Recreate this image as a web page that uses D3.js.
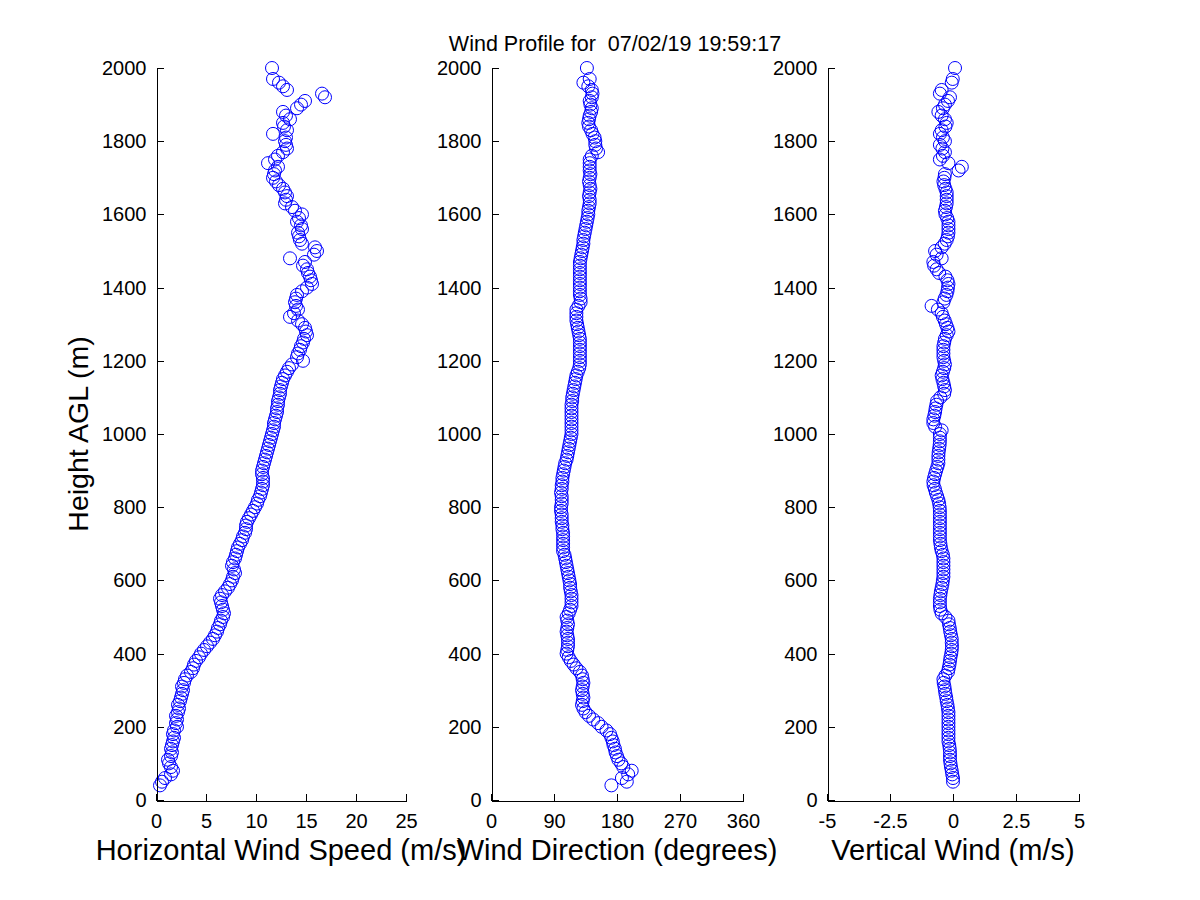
<!DOCTYPE html>
<html>
<head>
<meta charset="utf-8">
<script src="https://cdn.jsdelivr.net/npm/d3@7"></script>
<style>
  html, body { margin: 0; padding: 0; background: #fff; }
  svg { display: block; font-family: "Liberation Sans", Arial, sans-serif; }
</style>
</head>
<body>
<svg id="chart" width="1200" height="900"></svg>
<script>
// ---- Data ----
const titleText = "Wind Profile for  07/02/19 19:59:17";
const yLabel = "Height AGL (m)";
const yTicks = [0, 200, 400, 600, 800, 1000, 1200, 1400, 1600, 1800, 2000];

const heights = [
  40, 50, 60, 70, 80, 90, 100, 110, 120, 130,
  140, 150, 160, 170, 180, 190, 200, 210, 220, 230,
  240, 250, 260, 270, 280, 290, 300, 310, 320, 330,
  340, 350, 360, 370, 380, 390, 400, 410, 420, 430,
  440, 450, 460, 470, 480, 490, 500, 510, 520, 530,
  540, 550, 560, 570, 580, 590, 600, 610, 620, 630,
  640, 650, 660, 670, 680, 690, 700, 710, 720, 730,
  740, 750, 760, 770, 780, 790, 800, 810, 820, 830,
  840, 850, 860, 870, 880, 890, 900, 910, 920, 930,
  940, 950, 960, 970, 980, 990, 1000, 1010, 1020, 1030,
  1040, 1050, 1060, 1070, 1080, 1090, 1100, 1110, 1120, 1130,
  1140, 1150, 1160, 1170, 1180, 1190, 1200, 1210, 1220, 1230,
  1240, 1250, 1260, 1270, 1280, 1290, 1300, 1310, 1320, 1330,
  1340, 1350, 1360, 1370, 1380, 1390, 1400, 1410, 1420, 1430,
  1440, 1450, 1460, 1470, 1480, 1490, 1500, 1510, 1520, 1530,
  1540, 1550, 1560, 1570, 1580, 1590, 1600, 1610, 1620, 1630,
  1640, 1650, 1660, 1670, 1680, 1690, 1700, 1710, 1720, 1730,
  1740, 1750, 1760, 1770, 1780, 1790, 1800, 1810, 1820, 1830,
  1840, 1850, 1860, 1870, 1880, 1890, 1900, 1910, 1920, 1930,
  1940, 1950, 1960, 1970, 1980, 1990, 2000
];

const windSpeed = [
  0.4, 0.6, 0.9, 1.5, 1.7, 1.5, 1.3, 1.2, 1.5, 1.6,
  1.5, 1.6, 1.7, 1.8, 1.7, 1.8, 2.1, 2.0, 2.1, 2.0,
  2.2, 2.3, 2.2, 2.4, 2.5, 2.6, 2.7, 2.6, 2.8, 2.9,
  3.1, 3.5, 3.7, 3.8, 4.0, 4.3, 4.5, 4.8, 5.1, 5.4,
  5.7, 5.9, 6.1, 6.2, 6.4, 6.5, 6.7, 6.8, 6.7, 6.6,
  6.5, 6.4, 6.6, 6.9, 7.2, 7.4, 7.6, 7.7, 7.9, 7.8,
  7.6, 7.7, 7.9, 8.0, 8.1, 8.2, 8.4, 8.6, 8.7, 8.9,
  9.0, 9.0, 9.1, 9.3, 9.5, 9.7, 9.9, 10.1, 10.2, 10.4,
  10.5, 10.6, 10.7, 10.7, 10.7, 10.6, 10.6, 10.7, 10.8, 10.9,
  11.0, 11.1, 11.2, 11.3, 11.4, 11.5, 11.6, 11.7, 11.8, 11.8,
  11.9, 12.0, 12.1, 12.1, 12.2, 12.2, 12.3, 12.4, 12.4, 12.5,
  12.6, 12.7, 12.9, 13.1, 13.3, 13.6, 14.7, 14.1, 14.2, 14.4,
  14.5, 14.7, 14.8, 15.1, 15.0, 14.9, 14.6, 14.2, 13.4, 13.8,
  14.2, 14.0, 13.9, 14.0, 14.1, 14.6, 15.1, 15.6, 15.5, 15.4,
  15.2, 15.1, 14.7, 14.9, 13.4, 15.8, 16.1, 15.9, 14.6, 14.4,
  14.3, 14.2, 14.6, 14.5, 14.1, 14.3, 14.6, 13.9, 13.6, 12.9,
  13.0, 13.1, 12.9, 12.7, 12.3, 12.0, 11.7, 11.8, 11.9, 12.2,
  11.2, 11.9, 12.2, 12.7, 13.1, 13.0, 12.9, 13.0, 11.7, 13.1,
  12.8, 12.7, 13.4, 13.0, 12.7, 14.1, 14.5, 14.9, 16.9, 16.6,
  13.1, 12.7, 12.3, 11.7, null, null, 11.6
];

const windDirection = [
  172, 194, 187, 196, 201, 189, 186, 182, 180, 178,
  177, 175, 174, 172, 170, 165, 158, 153, 146, 140,
  135, 132, 130, 131, 132, 131, 130, 131, 132, 131,
  130, 127, 122, 118, 114, 111, 108, 109, 110, 110,
  110, 109, 108, 109, 110, 109, 108, 111, 113, 115,
  115, 115, 115, 114, 113, 113, 112, 111, 110, 109,
  108, 107, 106, 105, 103, 103, 103, 103, 103, 103,
  102, 102, 101, 101, 101, 100, 100, 101, 101, 101,
  100, 101, 101, 102, 102, 103, 104, 105, 106, 108,
  109, 110, 111, 112, 113, 114, 115, 115, 115, 115,
  115, 115, 115, 115, 115, 116, 116, 117, 118, 119,
  120, 121, 122, 124, 126, 127, 127, 127, 127, 127,
  127, 127, 127, 126, 125, 124, 123, 122, 122, 122,
  122, 125, 128, 128, 127, 127, 127, 127, 127, 127,
  127, 127, 127, 127, 128, 129, 130, 131, 132, 132,
  133, 134, 135, 136, 137, 138, 139, 139, 140, 141,
  141, 140, 141, 142, 141, 140, 141, 142, 141, 141,
  141, 141, 144, 153, 150, 149, 149, 148, 145, 143,
  140, 139, 140, 141, 143, 144, 142, 141, 144, 145,
  144, 139, 132, 141, null, null, 137
];

const verticalWind = [
  null, 0.0, 0.0, -0.03, -0.05, -0.08, -0.1, -0.12, -0.12, -0.12,
  -0.13, -0.15, -0.18, -0.18, -0.18, -0.18, -0.18, -0.18, -0.18, -0.18,
  -0.18, -0.2, -0.22, -0.25, -0.27, -0.3, -0.32, -0.34, -0.37, -0.38,
  -0.3, -0.2, -0.17, -0.14, -0.12, -0.1, -0.07, -0.05, -0.04, -0.05,
  -0.05, -0.08, -0.11, -0.13, -0.16, -0.18, -0.3, -0.45, -0.5, -0.52,
  -0.52, -0.52, -0.5, -0.48, -0.45, -0.42, -0.4, -0.38, -0.38, -0.38,
  -0.38, -0.38, -0.38, -0.4, -0.45, -0.48, -0.5, -0.52, -0.52, -0.52,
  -0.52, -0.52, -0.52, -0.52, -0.52, -0.52, -0.53, -0.55, -0.58, -0.63,
  -0.68, -0.72, -0.77, -0.78, -0.75, -0.71, -0.67, -0.62, -0.58, -0.58,
  -0.58, -0.57, -0.55, -0.53, -0.52, -0.52, -0.52, -0.45, -0.71, -0.78,
  -0.78, -0.74, -0.71, -0.69, -0.66, -0.63, -0.5, -0.35, -0.32, -0.35,
  -0.38, -0.42, -0.45, -0.4, -0.35, -0.32, -0.35, -0.38, -0.38, -0.38,
  -0.38, -0.35, -0.32, -0.25, -0.18, -0.22, -0.28, -0.33, -0.4, -0.45,
  -0.6, -0.85, -0.38, -0.33, -0.26, -0.22, -0.2, -0.18, -0.22, -0.3,
  -0.55, -0.65, -0.75, -0.78, -0.45, -0.65, -0.71, -0.45, -0.33, -0.25,
  -0.2, -0.18, -0.18, -0.18, -0.18, -0.23, -0.3, -0.32, -0.28, -0.25,
  -0.25, -0.25, -0.25, -0.3, -0.35, -0.38, -0.34, -0.32, 0.22, 0.35,
  -0.18, -0.52, -0.4, -0.32, -0.42, -0.52, -0.32, -0.4, -0.52, -0.45,
  -0.3, -0.25, -0.32, -0.45, -0.58, -0.4, -0.32, -0.2, -0.12, -0.52,
  -0.45, null, -0.05, -0.01, null, null, 0.08
];

const speedTicks = [0, 5, 10, 15, 20, 25];
const directionTicks = [0, 90, 180, 270, 360];
const verticalTicks = [-5, -2.5, 0, 2.5, 5];

const panels = [
  { label: "Horizontal Wind Speed (m/s)", values: windSpeed, domain: [0, 25], ticks: speedTicks, left: 156, right: 406 },
  { label: "Wind Direction (degrees)", values: windDirection, domain: [0, 360], ticks: directionTicks, left: 491, right: 743 },
  { label: "Vertical Wind (m/s)", values: verticalWind, domain: [-5, 5], ticks: verticalTicks, left: 827, right: 1079 }
];

// ---- Drawing ----
const svg = d3.select("#chart");
const plotTop = 68, plotBottom = 800;
const y = d3.scaleLinear().domain([0, 2000]).range([plotBottom, plotTop]);

svg.append("text")
  .attr("x", 615).attr("y", 51)
  .attr("text-anchor", "middle")
  .attr("font-size", 21.5)
  .attr("fill", "#000")
  .attr("xml:space", "preserve")
  .style("white-space", "pre")
  .text(titleText);

panels.forEach((p, pi) => {
  const x = d3.scaleLinear().domain(p.domain).range([p.left, p.right]);
  const g = svg.append("g");

  // points
  const pts = heights.map((h, i) => ({ h, v: p.values[i] })).filter(d => d.v !== null);
  g.append("g").selectAll("circle")
    .data(pts)
    .join("circle")
    .attr("cx", d => x(d.v))
    .attr("cy", d => y(d.h))
    .attr("r", 6.5)
    .attr("fill", "none")
    .attr("stroke", "#0000ff")
    .attr("stroke-width", 1);

  // y axis
  const ya = g.append("g")
    .attr("transform", `translate(${p.left + 0.5},0)`)
    .call(d3.axisLeft(y).tickValues(yTicks).tickFormat(d3.format("d")).tickSizeInner(-7).tickSizeOuter(0).tickPadding(10));
  // x axis
  const xa = g.append("g")
    .attr("transform", `translate(0,${plotBottom + 0.5})`)
    .call(d3.axisBottom(x).tickValues(p.ticks).tickFormat(d => String(d)).tickSizeInner(-7).tickSizeOuter(0).tickPadding(13));

  [ya, xa].forEach(a => {
    a.attr("font-family", null).attr("font-size", null);
    a.selectAll("text").attr("font-size", 20).attr("fill", "#000");
    a.selectAll("line").attr("stroke", "#000").attr("shape-rendering", "crispEdges");
    a.select(".domain").attr("stroke", "#000").attr("shape-rendering", "crispEdges");
  });

  // x label
  svg.append("text")
    .attr("x", (p.left + p.right) / 2)
    .attr("y", 860)
    .attr("text-anchor", "middle")
    .attr("font-size", 29)
    .attr("fill", "#000")
    .text(p.label);

  if (pi === 0) {
    svg.append("text")
      .attr("transform", `translate(88,${(plotTop + plotBottom) / 2}) rotate(-90)`)
      .attr("text-anchor", "middle")
      .attr("font-size", 28.5)
      .attr("fill", "#000")
      .text(yLabel);
  }
});
</script>
</body>
</html>
